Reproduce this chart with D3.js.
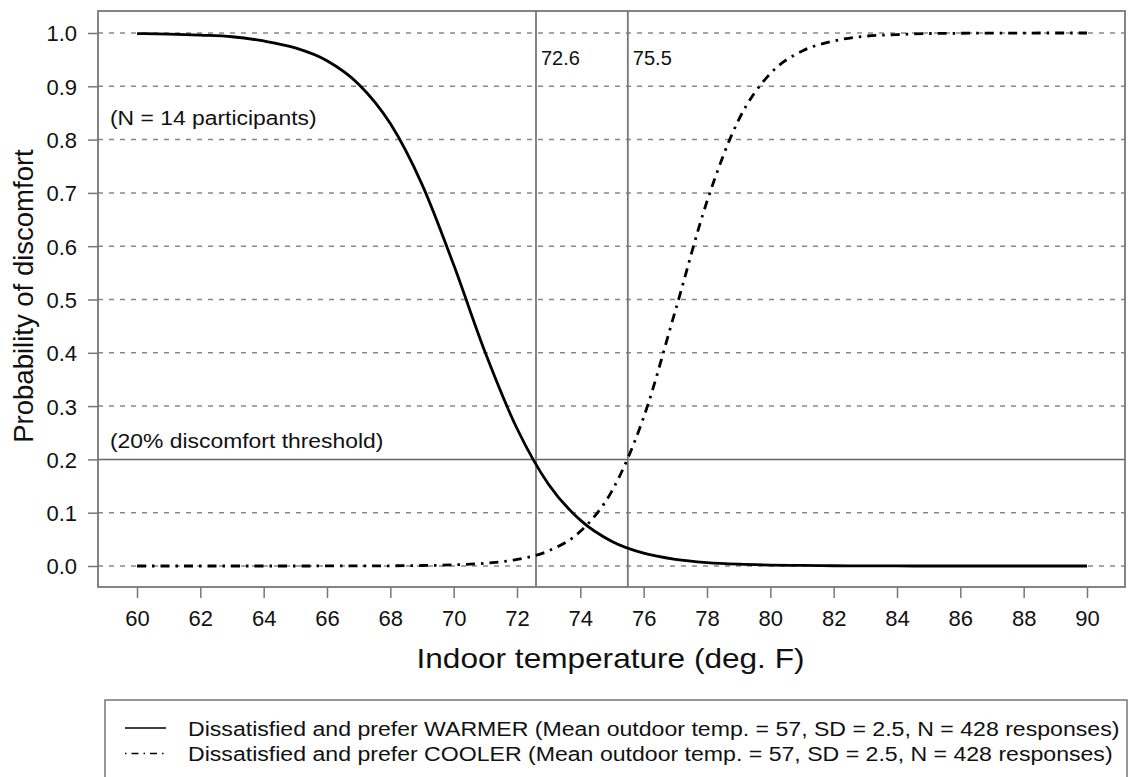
<!DOCTYPE html>
<html>
<head>
<meta charset="utf-8">
<script src="https://cdn.jsdelivr.net/npm/d3@7"></script>
<style>
  body { margin: 0; background: #fff; }
  svg text { font-family: "Liberation Sans", Arial, Helvetica, sans-serif; fill: #111; }
</style>
</head>
<body>
<svg id="chart" width="1128" height="777"></svg>
<script>
// temperature values (deg F) the curves are read at
const temps = [60, 61, 62, 63, 64, 65, 66, 67, 68, 69, 70, 71, 72, 73, 74, 75,
               76, 77, 78, 79, 80, 81, 82, 83, 84, 85, 86, 87, 88, 89, 90];
// probability of discomfort
const warmer = [0.999, 0.998, 0.996, 0.993, 0.985, 0.972, 0.948, 0.904, 0.830, 0.716, 0.565,
                0.400, 0.258, 0.153, 0.086, 0.046, 0.024, 0.0125, 0.0065, 0.0034, 0.0018,
                0.001, 0.0005, 0.0003, 0.0001, 0, 0, 0, 0, 0, 0];
const cooler = [0, 0, 0, 0, 0, 0, 0.0001, 0.0002, 0.0004, 0.0009, 0.0022,
                0.0052, 0.0123, 0.0285, 0.065, 0.141, 0.279, 0.479, 0.684, 0.837, 0.924,
                0.966, 0.985, 0.994, 0.997, 0.999, 0.9995, 0.9998, 0.9999, 1, 1];
const xTicks = [60, 62, 64, 66, 68, 70, 72, 74, 76, 78, 80, 82, 84, 86, 88, 90];
const yTicks = [0, 0.1, 0.2, 0.3, 0.4, 0.5, 0.6, 0.7, 0.8, 0.9, 1.0];
const thresholdTemps = [72.6, 75.5];
const thresholdProb = 0.2;
const legendLabels = [
  "Dissatisfied and prefer WARMER (Mean outdoor temp. = 57, SD = 2.5, N = 428 responses)",
  "Dissatisfied and prefer COOLER (Mean outdoor temp. = 57, SD = 2.5, N = 428 responses)"
];

const BOX = { left: 98, top: 11, right: 1125, bottom: 587 };
const GRID_COLOR = "#888";
const COOLER_DASH = "9,6,2.5,6";

const svg = d3.select("#chart");
const x = d3.scaleLinear().domain([60, 90]).range([137, 1087]);
const y = d3.scaleLinear().domain([0, 1]).range([566, 33]);

// text that is a little wider than Liberation Sans, like the original
function wideText(px, py, size, sx, str, anchor) {
  return svg.append("text")
    .attr("transform", `translate(${px},${py}) scale(${sx},1)`)
    .attr("font-size", size)
    .attr("text-anchor", anchor || "start")
    .text(str);
}

// dashed horizontal grid (0.2 gets a solid line)
svg.append("g").selectAll("line")
  .data(yTicks.filter(d => Math.abs(d - thresholdProb) > 1e-9))
  .join("line")
  .attr("x1", BOX.left).attr("x2", BOX.right)
  .attr("y1", d => y(d)).attr("y2", d => y(d))
  .attr("stroke", GRID_COLOR).attr("stroke-width", 1.5)
  .attr("stroke-dasharray", "5,6");

svg.append("line")
  .attr("x1", BOX.left).attr("x2", BOX.right)
  .attr("y1", y(thresholdProb)).attr("y2", y(thresholdProb))
  .attr("stroke", "#666").attr("stroke-width", 1.5);

svg.append("g").selectAll("line")
  .data(thresholdTemps)
  .join("line")
  .attr("x1", d => x(d)).attr("x2", d => x(d))
  .attr("y1", BOX.top).attr("y2", BOX.bottom)
  .attr("stroke", "#777").attr("stroke-width", 1.8);

svg.append("g").selectAll("text")
  .data(thresholdTemps)
  .join("text")
  .attr("x", d => x(d) + 5).attr("y", 65)
  .attr("font-size", 20)
  .text(d => d.toFixed(1));

// curves
const line = d3.line().x(d => x(d[0])).y(d => y(d[1])).curve(d3.curveMonotoneX);
svg.append("path")
  .datum(d3.zip(temps, cooler))
  .attr("d", line)
  .attr("fill", "none").attr("stroke", "#000").attr("stroke-width", 2.8)
  .attr("stroke-dasharray", COOLER_DASH);
svg.append("path")
  .datum(d3.zip(temps, warmer))
  .attr("d", line)
  .attr("fill", "none").attr("stroke", "#000").attr("stroke-width", 2.8);

// annotations
wideText(110, 125, 21, 1.09, "(N = 14 participants)");
wideText(110, 448, 21, 1.09, "(20% discomfort threshold)");

// axes
const xAxis = svg.append("g")
  .attr("transform", `translate(0,${BOX.bottom})`)
  .call(d3.axisBottom(x).tickValues(xTicks).tickSize(11).tickPadding(12).tickFormat(d3.format("d")));
const yAxis = svg.append("g")
  .attr("transform", `translate(${BOX.left},0)`)
  .call(d3.axisLeft(y).tickValues(yTicks).tickSize(10).tickPadding(11).tickFormat(d3.format(".1f")));
[xAxis, yAxis].forEach(g => {
  g.select(".domain").remove();
  g.selectAll(".tick line").attr("stroke", "#777").attr("stroke-width", 1.5);
  g.selectAll(".tick text").attr("font-size", 22).attr("fill", "#111")
    .attr("font-family", "'Liberation Sans', Arial, sans-serif");
});
yAxis.selectAll(".tick text").attr("dy", "0.36em");

// plot box
svg.append("rect")
  .attr("x", BOX.left).attr("y", BOX.top)
  .attr("width", BOX.right - BOX.left).attr("height", BOX.bottom - BOX.top)
  .attr("fill", "none").attr("stroke", "#777").attr("stroke-width", 1.8);

// axis titles
wideText((BOX.left + BOX.right) / 2 - 1, 668, 27, 1.17, "Indoor temperature (deg. F)", "middle");
svg.append("text")
  .attr("transform", `translate(33,${(BOX.top + BOX.bottom) / 2 - 3}) rotate(-90)`)
  .attr("text-anchor", "middle").attr("font-size", 27.5)
  .text("Probability of discomfort");

// legend
const legend = svg.append("g");
legend.append("rect")
  .attr("x", 105).attr("y", 700).attr("width", 1022).attr("height", 90)
  .attr("fill", "none").attr("stroke", "#777").attr("stroke-width", 1.5);
legendLabels.forEach((label, i) => {
  const ly = 728 + i * 25.5;
  legend.append("line")
    .attr("x1", 125).attr("x2", 166).attr("y1", ly).attr("y2", ly)
    .attr("stroke", "#000").attr("stroke-width", 1.5)
    .attr("stroke-dasharray", i === 0 ? null : "1.5,5,7,5");
  wideText(188, ly + 7.5, 21, 1.1, label);
});
</script>
</body>
</html>
